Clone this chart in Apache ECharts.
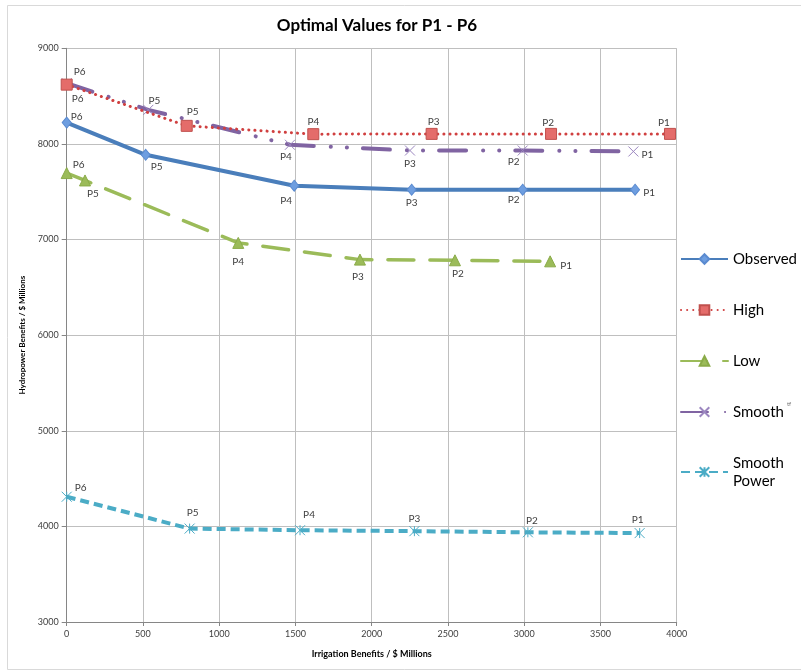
<!DOCTYPE html>
<html>
<head>
<meta charset="utf-8">
<script src="https://cdn.jsdelivr.net/npm/echarts@6/dist/echarts.min.js"></script>
<style>
html,body{margin:0;padding:0;background:#fff;}
#chart{width:801px;height:671px;}
</style>
</head>
<body>
<div id="chart"></div>
<script>
// ---- Data ----
const pointLabels = ['P6', 'P5', 'P4', 'P3', 'P2', 'P1'];

const observedX = [0, 518, 1492, 2262, 2990, 3727];
const observedY = [8223, 7886, 7563, 7521, 7521, 7521];

const highX = [0, 787, 1617, 2393, 3176, 3956];
const highY = [8620, 8189, 8102, 8105, 8105, 8105];

const lowX = [0, 120, 1125, 1923, 2546, 3170];
const lowY = [7695, 7618, 6965, 6790, 6783, 6772];

const smoothX = [0, 535, 1464, 2251, 2990, 3716];
const smoothY = [8635, 8356, 7991, 7931, 7931, 7921];

const smoothPowerX = [0, 806, 1530, 2280, 3024, 3757];
const smoothPowerY = [4310, 3977, 3960, 3950, 3938, 3930];

const seriesNames = ['Observed', 'High', 'Low', 'Smooth', 'Smooth Power'];
const xTicks = [0, 500, 1000, 1500, 2000, 2500, 3000, 3500, 4000];
const yTicks = [3000, 4000, 5000, 6000, 7000, 8000, 9000];

// ---- Label placement (layout only) ----
const labelOffsets = {
  'Observed':     [[10,-6],[11,12],[-8,15],[0,13],[-9,10],[14,3]],
  'High':         [[13,-13],[6,-14],[0,-12],[2,-12],[-3,-11],[-6,-11]],
  'Low':          [[12,-8],[8,13],[0,19],[-2,17],[3,13],[16,4]],
  'Smooth':       [[11,16],[6,-9],[-4,12],[0,13],[-9,11],[14,3]],
  'Smooth Power': [[14,-9],[3,-16],[9,-15],[0,-12],[4,-12],[-2,-13]]
};

function buildData(name, xs, ys) {
  return xs.map((x, i) => ({
    value: [x, ys[i]],
    name: pointLabels[i],
    label: { offset: labelOffsets[name][i] }
  }));
}

const labelStyle = {
  show: true,
  position: 'inside',
  formatter: p => p.name,
  fontFamily: 'Lato',
  fontSize: 10,
  color: '#404040'
};

const chart = echarts.init(document.getElementById('chart'), null, { renderer: 'canvas' });

const option = {
  backgroundColor: '#ffffff',
  animation: false,
  title: {
    text: 'Optimal Values for P1 - P6',
    left: 372,
    textAlign: 'center',
    top: 12,
    textStyle: { fontFamily: 'Lato', fontWeight: 'bold', fontSize: 17, color: '#000' }
  },
  graphic: [
    { type: 'rect', shape: { x: 7.5, y: 5.5, width: 800, height: 664 },
      style: { fill: 'none', stroke: '#d9d9d9', lineWidth: 1 }, silent: true, z: -1 },
    { type: 'text', left: 787, top: 401,
      style: { text: 'tf', fontSize: 6, fill: '#777', fontFamily: 'Lato' } }
  ],
  legend: {
    orient: 'vertical',
    left: 675,
    top: 245,
    itemGap: 33,
    itemWidth: 47,
    itemHeight: 12,
    data: seriesNames,
    formatter: n => n === 'Smooth Power' ? 'Smooth\nPower' : n,
    textStyle: { fontFamily: 'Lato', fontSize: 15, color: '#000', lineHeight: 18 }
  },
  grid: { left: 66.7, right: 124.3, top: 48.3, bottom: 49, containLabel: false },
  xAxis: {
    type: 'value',
    min: xTicks[0], max: xTicks[xTicks.length - 1], interval: 500,
    name: 'Irrigation Benefits / $ Millions',
    nameLocation: 'middle', nameGap: 28,
    nameTextStyle: { fontFamily: 'Lato', fontWeight: 'bold', fontSize: 9, color: '#000' },
    axisLine: { show: true, lineStyle: { color: '#868686', width: 1 } },
    axisTick: { show: true, length: 4, lineStyle: { color: '#868686' } },
    axisLabel: { fontFamily: 'Lato', fontSize: 9, color: '#404040', margin: 8, formatter: v => String(v) },
    splitLine: { show: true, lineStyle: { color: '#bfbfbf', width: 1 } }
  },
  yAxis: {
    type: 'value',
    min: yTicks[0], max: yTicks[yTicks.length - 1], interval: 1000,
    name: 'Hydropower Benefits / $ Millions',
    nameLocation: 'middle', nameGap: 28, nameRotate: 90,
    nameTextStyle: { fontFamily: 'Lato', fontWeight: 'bold', fontSize: 8, color: '#000' },
    axisLine: { show: true, lineStyle: { color: '#868686', width: 1 } },
    axisTick: { show: true, length: 5, lineStyle: { color: '#868686' } },
    axisLabel: { fontFamily: 'Lato', fontSize: 9, color: '#404040', margin: 8, formatter: v => String(v) },
    splitLine: { show: true, lineStyle: { color: '#bfbfbf', width: 1 } }
  },
  series: [
    {
      name: 'Smooth Power', type: 'line',
      data: buildData('Smooth Power', smoothPowerX, smoothPowerY),
      symbol: 'path://M0,0L10,10M10,0L0,10M5,0L5,10', symbolSize: 10,
      showAllSymbol: true,
      lineStyle: { color: '#4BACC6', width: 4, type: [9, 5] },
      itemStyle: { color: '#4BACC6', borderColor: '#4BACC6', borderWidth: 1 },
      label: labelStyle, z: 2
    },
    {
      name: 'Low', type: 'line',
      data: buildData('Low', lowX, lowY),
      symbol: 'triangle', symbolSize: 11,
      lineStyle: { color: '#9BBB59', width: 3.5, type: [26, 16], cap: 'round' },
      itemStyle: { color: '#9BBB59', borderColor: '#8aab48', borderWidth: 1 },
      label: labelStyle, z: 3
    },
    {
      name: 'Observed', type: 'line',
      data: buildData('Observed', observedX, observedY),
      symbol: 'diamond', symbolSize: [9, 11],
      lineStyle: { color: '#4A7EBB', width: 4 },
      itemStyle: { color: '#6E9EE0', borderColor: '#5b8bd0', borderWidth: 1 },
      label: labelStyle, z: 4
    },
    {
      name: 'Smooth', type: 'line',
      data: buildData('Smooth', smoothX, smoothY),
      symbol: 'path://M0,0L10,10M10,0L0,10', symbolSize: 10,
      lineStyle: { color: '#8064A2', width: 4, type: [27, 17, 0.1, 16, 0.1, 16], cap: 'round' },
      itemStyle: { color: '#9c87c0', borderColor: '#9c87c0', borderWidth: 1 },
      label: labelStyle, z: 5
    },
    {
      name: 'High', type: 'line',
      data: buildData('High', highX, highY),
      symbol: 'rect', symbolSize: 11,
      lineStyle: { color: '#D04040', width: 3, type: [0.1, 6], cap: 'round' },
      itemStyle: { color: '#E46C6A', borderColor: '#C0504D', borderWidth: 1 },
      label: labelStyle, z: 6
    }
  ]
};

chart.setOption(option);
</script>
</body>
</html>
